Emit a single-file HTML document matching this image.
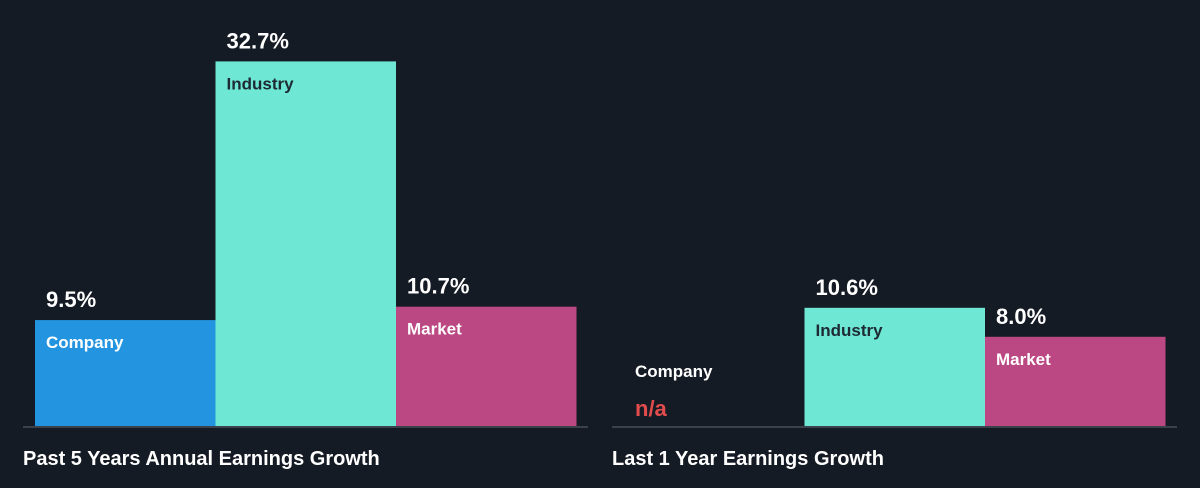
<!DOCTYPE html>
<html><head><meta charset="utf-8"><style>
body{margin:0;background:#151b24;width:1200px;height:488px;overflow:hidden;font-family:"Liberation Sans",sans-serif}
svg{display:block}
</style></head><body>
<svg id="c" width="1200" height="488"></svg>
<script>
const categories=["Company","Industry","Market"];
const past5Values=[9.5,32.7,10.7];
const last1Values=[null,10.6,8.0];
const panelTitles=["Past 5 Years Annual Earnings Growth","Last 1 Year Earnings Growth"];
const colors=["#2394df","#6ee7d5","#bb4883"];
const svg=document.getElementById('c');
const NS="http://www.w3.org/2000/svg";
const baseY=426, pxPer=11.15, barW=180.5;
function y(v){return baseY-v*pxPer;}
function mk(t,a,txt){const e=document.createElementNS(NS,t);for(const k in a)e.setAttribute(k,a[k]);if(txt!=null)e.textContent=txt;svg.appendChild(e);return e;}
function panel(x0,vals,title,pi){
  const ax=mk('line',{x1:x0-12,x2:x0+553,y1:baseY+1,y2:baseY+1,stroke:'#4a5058','stroke-width':1.5});
  
  
  vals.forEach((v,i)=>{
    const bx=x0+i*barW;
    if(v==null){
      const l=mk('text',{x:bx+11,y:baseY-49,fill:'#fff','font-size':17,'font-weight':'bold'},categories[i]);
      
      
      const n=mk('text',{x:bx+11,y:baseY-10,fill:'#e24c4c','font-size':22,'font-weight':'bold'},'n/a');
      
      
      return;
    }
    const r=mk('rect',{x:bx,y:y(v),width:barW,height:baseY-y(v),fill:colors[i]});
    
    
    const l=mk('text',{x:bx+11,y:y(v)+28,fill:i==1?'#1e2a33':'#fff','font-size':17,'font-weight':'bold'},categories[i]);
    
    
    const t=mk('text',{x:bx+11,y:y(v)-13,fill:'#fff','font-size':22,'font-weight':'bold'},v.toFixed(1)+'%');
    
    
  });
  const tt=mk('text',{x:x0-12,y:465,fill:'#fff','font-size':20,'font-weight':'bold'},title);
  
  
}
panel(35,past5Values,panelTitles[0],0);
panel(624,last1Values,panelTitles[1],1);
</script>
</body></html>
